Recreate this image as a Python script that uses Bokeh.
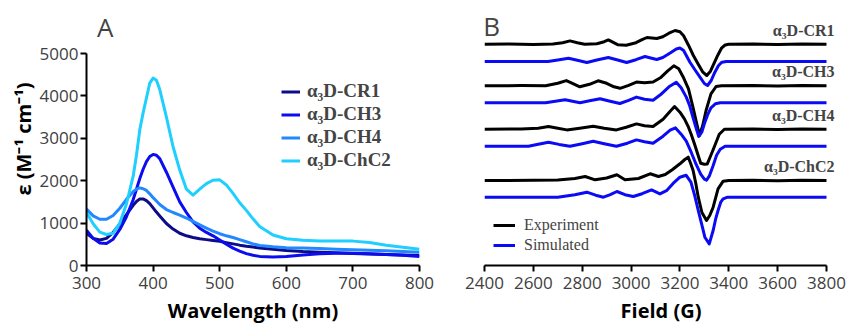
from bokeh.plotting import figure
from bokeh.layouts import row
from bokeh.models import Range1d, FixedTicker, Legend, LegendItem, Label
from bokeh.embed import file_html
from bokeh.resources import INLINE

# ---------------- Panel A data (UV-vis) ----------------
wavelength = [300, 310, 320, 330, 340, 350, 360, 370, 375, 380, 385, 390, 395, 400, 405, 410, 420, 430, 440, 450,
              460, 470, 480, 490, 500, 510, 520, 530, 540, 550, 560, 580, 600, 625, 650, 675,
              700, 725, 750, 775, 800]
eps_cr1 = [760, 640, 600, 640, 780, 980, 1200, 1420, 1510, 1570, 1570, 1530, 1460, 1360, 1260, 1170, 990, 860, 760, 700,
           660, 630, 610, 590, 570, 540, 510, 480, 455, 435, 415, 385, 355, 330, 315, 300,
           285, 270, 260, 250, 235]
eps_ch3 = [830, 640, 530, 520, 620, 850, 1150, 1550, 1800, 2050, 2270, 2450, 2570, 2620, 2600, 2520, 2200, 1850, 1500, 1250,
           1030, 880, 780, 700, 600, 500, 410, 340, 280, 240, 215, 200, 213, 245, 275, 290,
           290, 275, 260, 240, 215]
eps_ch4 = [1330, 1170, 1090, 1090, 1180, 1350, 1560, 1740, 1800, 1830, 1810, 1770, 1690, 1600, 1520, 1440, 1320, 1250, 1190, 1120,
           1040, 960, 880, 810, 750, 700, 660, 610, 560, 510, 470, 440, 420, 410, 400, 385,
           370, 360, 345, 330, 315]
eps_chc2 = [1250, 985, 787, 732, 760, 1000, 1450, 2100, 2600, 3200, 3600, 3950, 4300, 4420, 4370, 4150, 3500, 2800, 2250, 1800,
            1660, 1800, 1930, 2010, 2020, 1900, 1700, 1480, 1300, 1100, 920, 720, 630, 595, 580, 575,
            575, 540, 480, 430, 385]
a_names = ["α₃D-CR1", "α₃D-CH3", "α₃D-CH4", "α₃D-ChC2"]
a_colors = ["#0c0c88", "#0c0cf0", "#2288ff", "#1ecfff"]
a_series = [eps_cr1, eps_ch3, eps_ch4, eps_chc2]
a_xticks = [300, 400, 500, 600, 700, 800]
a_yticks = [0, 1000, 2000, 3000, 4000, 5000]

# ---------------- Panel B data (EPR, relative amplitude) ----------------
cr1_exp_f = [2400, 2500, 2600, 2680, 2720, 2750, 2780, 2810, 2860, 2890, 2907, 2925, 2945, 2980, 3020, 3045,
             3065, 3085, 3105, 3130, 3155, 3180, 3200, 3215, 3235, 3255, 3275, 3294, 3310, 3325, 3340,
             3355, 3370, 3385, 3400, 3500, 3600, 3700, 3800]
cr1_exp_v = [0, 0.3, -0.2, 0.2, 1.5, 3.3, 1.5, 0, 0.5, 2.5, 4.3, 2, -0.5, -1, 1.5, 4.5,
             6.7, 6.2, 5.7, 7.5, 11, 13.7, 12.5, 8.5, -1, -11.3, -20, -28, -31.3, -27, -19,
             -11, -4, -0.8, 0, 0.2, -0.2, 0.2, 0]
cr1_sim_f = [2400, 2660, 2700, 2744, 2780, 2819, 2860, 2907, 2945, 2982, 3020, 3057, 3080, 3105, 3130, 3160,
             3185, 3200, 3215, 3241, 3262, 3282, 3300, 3313, 3328, 3343, 3358, 3372, 3390, 3800]
cr1_sim_v = [0, 0, 1.5, 3.3, 1.2, -1, 1.5, 4, 1.5, -1, 1.8, 5, 3.5, 2, 4, 8.5,
             12.5, 13.5, 11, -0.7, -8.5, -15.7, -22, -24, -19, -10.7, -4, -0.7, 0, 0]
ch3_exp_f = [2400, 2550, 2650, 2700, 2735, 2760, 2790, 2830, 2865, 2900, 2930, 2955, 2990, 3022, 3055, 3090,
             3120, 3150, 3175, 3195, 3215, 3235, 3253, 3268, 3280, 3293, 3307, 3327, 3348, 3370, 3500,
             3600, 3700, 3800]
ch3_exp_v = [0, 0.2, 0, 2.5, 5.2, 2.5, -1, 1.5, 5, 2.5, -1, -2.5, 0.5, 3.7, 3, 3.8,
             8, 15, 20, 17, 8, -3, -21, -37, -49.7, -40, -24.7, -8, -0.7, 0, 0.2,
             -0.2, 0.2, 0]
ch3_sim_f = [2400, 2650, 2690, 2730, 2760, 2791, 2830, 2873, 2910, 2954, 2990, 3022, 3055, 3090, 3120, 3155,
             3185, 3205, 3226, 3240, 3253, 3266, 3277, 3290, 3300, 3315, 3327, 3345, 3365, 3800]
ch3_sim_v = [0, 0, 1.5, 3, 1.5, 0, 2, 4, 1.8, -0.7, 2.5, 5.7, 3.5, 2.5, 8, 16,
             20.5, 15, 5.7, -3, -14.3, -25, -33.7, -29, -21, -11, -5, -1, 0, 0]
ch4_exp_f = [2400, 2550, 2620, 2662, 2700, 2737, 2790, 2845, 2890, 2940, 2980, 3022, 3055, 3090, 3131, 3160,
             3178, 3200, 3219, 3235, 3246, 3260, 3273, 3285, 3300, 3312, 3325, 3340, 3361, 3382, 3500,
             3600, 3700, 3800]
ch4_exp_v = [0, 0.2, 1, 2.7, 1, -0.7, 1, 3, 1, -0.7, 2, 5.3, 3.5, 2.7, 10, 18,
             22.7, 17, 10, 2, -5, -15, -25, -34, -35, -34.7, -27, -18, -5, 0, 0.2,
             -0.2, 0.2, 0]
ch4_sim_f = [2400, 2580, 2620, 2662, 2705, 2750, 2800, 2845, 2890, 2940, 2985, 3022, 3055, 3090, 3131, 3160,
             3182, 3205, 3226, 3246, 3266, 3285, 3300, 3309, 3320, 3335, 3350, 3365, 3385, 3800]
ch4_sim_v = [0, 0, 2, 4, 1.8, 0, 2.5, 5, 2.5, 0, 3, 6.3, 4.5, 3, 10, 16,
             18.3, 12, 5, -6, -18, -28, -33, -34, -30, -20, -9, -3, 0, 0]
chc2_exp_f = [2400, 2600, 2700, 2770, 2812, 2853, 2900, 2942, 2975, 3030, 3078, 3112, 3140, 3170, 3200, 3220,
              3234, 3244, 3254, 3265, 3275, 3290, 3309, 3322, 3336, 3356, 3377, 3400, 3500, 3600, 3700, 3800]
chc2_exp_v = [0, 0.2, 0.5, 2, 4, 0.7, 2.5, 5.7, 0.7, 2, 6.7, 4, 6, 11, 16.7, 21,
              23.3, 17, 10, -3, -16.7, -32, -40, -35, -26.7, -8.3, -0.7, 0, 0.2, -0.2, 0.2, 0]
chc2_sim_f = [2400, 2700, 2770, 2819, 2855, 2887, 2915, 2942, 2975, 3009, 3045, 3084, 3118, 3145, 3173, 3200,
              3225, 3245, 3260, 3275, 3290, 3302, 3320, 3336, 3346, 3356, 3367, 3377, 3395, 3800]
chc2_sim_v = [0, 0, 2.5, 5, 2, 0, 2.5, 5.7, 2.5, 0.7, 3.5, 7.3, 3.3, 6.5, 14, 20,
              22, 15, 2, -13.3, -28, -40, -46.7, -33.3, -22, -13.3, -5, -1.7, 0, 0]

b_names = ["α₃D-CR1", "α₃D-CH3", "α₃D-CH4", "α₃D-ChC2"]
b_exp = [(cr1_exp_f, cr1_exp_v), (ch3_exp_f, ch3_exp_v), (ch4_exp_f, ch4_exp_v), (chc2_exp_f, chc2_exp_v)]
b_sim = [(cr1_sim_f, cr1_sim_v), (ch3_sim_f, ch3_sim_v), (ch4_sim_f, ch4_sim_v), (chc2_sim_f, chc2_sim_v)]
exp_offsets = [221.3, 179.7, 136.3, 85.0]
sim_offsets = [204.0, 162.7, 119.3, 68.3]
b_xticks = [2400, 2600, 2800, 3000, 3200, 3400, 3600, 3800]

TICK_FONT = "Open Sans"
TICK_COLOR = "#404040"


def style_axis(ax):
    ax.axis_line_width = 2
    ax.axis_line_color = "black"
    ax.major_tick_line_width = 2
    ax.major_tick_line_color = "black"
    ax.major_tick_out = 6
    ax.major_tick_in = 0
    ax.minor_tick_line_color = None
    ax.major_label_text_font = TICK_FONT
    ax.major_label_text_font_size = "17px"
    ax.major_label_text_color = TICK_COLOR
    ax.axis_label_text_font = TICK_FONT
    ax.axis_label_text_font_style = "bold"
    ax.axis_label_text_font_size = "20px"
    ax.axis_label_text_color = "black"


H = 326
BORDER_TOP = 12
BORDER_BOTTOM = 61

# ---------------- Panel A ----------------
pa = figure(width=440, height=H, output_backend="svg", toolbar_location=None,
            x_range=Range1d(300, 800), y_range=Range1d(0, 5967),
            min_border_left=86, min_border_right=21, min_border_top=BORDER_TOP,
            min_border_bottom=BORDER_BOTTOM)
pa.outline_line_color = None
pa.grid.grid_line_color = None
style_axis(pa.xaxis[0])
style_axis(pa.yaxis[0])
pa.yaxis.bounds = (0, 5000)
pa.xaxis.ticker = FixedTicker(ticks=a_xticks)
pa.yaxis.ticker = FixedTicker(ticks=a_yticks)
pa.xaxis.axis_label = "Wavelength (nm)"
pa.yaxis.axis_label = "ε (M⁻¹ cm⁻¹)"
pa.xaxis.major_label_standoff = 5
pa.xaxis.axis_label_standoff = 5
pa.yaxis.major_label_standoff = 2
pa.yaxis.axis_label_standoff = 0

items = []
for name, col, ser in zip(a_names, a_colors, a_series):
    r = pa.line(wavelength, ser, line_color=col, line_width=3, line_join="round")
    items.append(LegendItem(label=name, renderers=[r]))
leg_a = Legend(items=items, location=(195, 94), padding=0, spacing=1,
               label_height=21, glyph_height=21, glyph_width=19, label_standoff=7,
               label_text_font="Liberation Serif", label_text_font_style="bold",
               label_text_font_size="19px", background_fill_alpha=0, border_line_color=None)
pa.add_layout(leg_a, "center")
pa.add_layout(Label(x=328, y=5620, text="A", text_font=TICK_FONT, text_font_size="26px",
                    text_align="center", text_baseline="middle"))

# ---------------- Panel B ----------------
pb = figure(width=406, height=H, output_backend="svg", toolbar_location=None,
            x_range=Range1d(2400, 3845), y_range=Range1d(0, 253),
            min_border_left=44, min_border_right=9, min_border_top=BORDER_TOP,
            min_border_bottom=BORDER_BOTTOM)
pb.outline_line_color = None
pb.grid.grid_line_color = None
pb.yaxis.visible = False
style_axis(pb.xaxis[0])
pb.xaxis.bounds = (2400, 3800)
pb.xaxis.ticker = FixedTicker(ticks=b_xticks)
pb.xaxis.axis_label = "Field (G)"
pb.xaxis.major_label_standoff = 5
pb.xaxis.axis_label_standoff = 5

exp_r = sim_r = None
for i in range(4):
    ef, ev = b_exp[i]
    sf, sv = b_sim[i]
    exp_r = pb.line(ef, [v + exp_offsets[i] for v in ev], line_color="black", line_width=3, line_join="round")
    sim_r = pb.line(sf, [v + sim_offsets[i] for v in sv], line_color="#0a0af5", line_width=3, line_join="round")
    pb.add_layout(Label(x=3833, y=exp_offsets[i] + 14, text=b_names[i], text_font="Liberation Serif",
                        text_font_style="bold", text_font_size="16px", text_align="right",
                        text_baseline="middle"))

leg_b = Legend(items=[LegendItem(label="Experiment", renderers=[exp_r]),
                      LegendItem(label="Simulated", renderers=[sim_r])],
               location=(9, 11), padding=0, spacing=2, label_height=18, glyph_height=18,
               glyph_width=22, label_standoff=9, label_text_font="Liberation Serif",
               label_text_font_size="16px", background_fill_alpha=0, border_line_color=None)
pb.add_layout(leg_b, "center")
pb.add_layout(Label(x=2429, y=240, text="B", text_font=TICK_FONT, text_font_size="26px",
                    text_align="center", text_baseline="middle"))

layout = row(pa, pb)
open("out.html", "w").write(file_html(layout, INLINE))
